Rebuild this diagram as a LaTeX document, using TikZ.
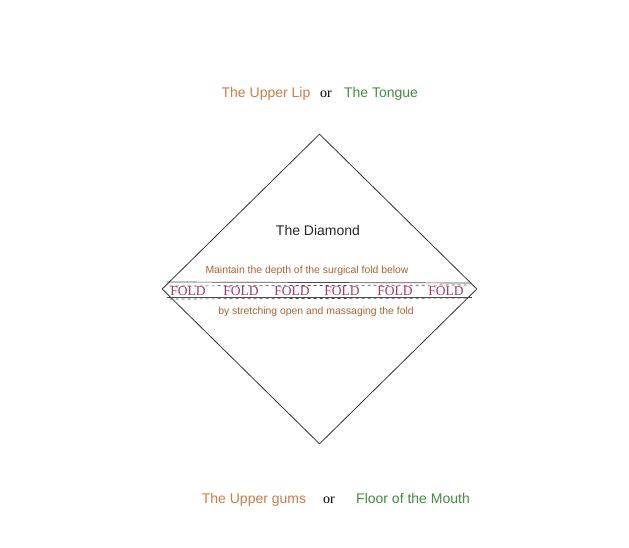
\documentclass[tikz,border=0pt]{standalone}
\usepackage{fontspec}
\setmainfont{Liberation Serif}
\setsansfont{Liberation Sans}
\usepackage{xcolor}
\usetikzlibrary{shapes.geometric,calc}
\definecolor{LipOrange}{HTML}{D07B45}
\definecolor{TongueGreen}{HTML}{3F8F3F}
\definecolor{NoteBrown}{HTML}{B0612E}
\definecolor{FoldRed}{HTML}{A3386B}
\definecolor{EdgeGrey}{HTML}{333333}
\definecolor{FoldLine}{HTML}{4A4A4A}
\tikzset{
  place/.style={
    anchor=base,
    inner sep=0pt,
    font=\sffamily\fontsize{14}{16}\selectfont,
  },
  orword/.style={
    anchor=base,
    inner sep=0pt,
    font=\rmfamily\fontsize{14}{16}\selectfont,
    text=black,
  },
  note/.style={
    anchor=base,
    inner sep=0pt,
    font=\sffamily\fontsize{10.4}{12}\selectfont,
    text=NoteBrown,
  },
  foldword/.style={
    anchor=base,
    inner sep=0pt,
    font=\rmfamily\fontsize{13.5}{15}\selectfont,
    text=FoldRed,
  },
  foldline/.style={
    draw=FoldLine,
    line width=0.7pt,
  }
}

\begin{document}
\begin{tikzpicture}[x=1pt,y=-1pt]
  \useasboundingbox (0,0) rectangle (629,548);

  % the diamond
  \node[
    diamond,
    draw=EdgeGrey,
    line width=0.8pt,
    inner sep=0pt,
    minimum width=315pt,
    minimum height=310pt
  ] (dia) at (319.5,289) {};

  % top labels
  \node[place, text=LipOrange] (lip) at (266,97.5) {The Upper Lip};
  \node[orword] (or1) at (326,97.5) {or};
  \node[place, text=TongueGreen] (tongue) at (381,97.5) {The Tongue};

  % inside the diamond
  \node[place, text=black!85] (title) at (318,236) {The Diamond};
  \node[note] (above) at (307,273.5) {Maintain the depth of the surgical fold below};
  \node[note] (below) at (316,314) {by stretching open and massaging the fold};

  % the fold band
  \draw[foldline] ($(dia.west)+(5,-7)$) -- ($(dia.east)+(-6,-6)$);
  \draw[foldline, dashed] ($(dia.west)+(8,-3)$) -- ($(dia.east)+(-8,-4)$);
  \draw[foldline] ($(dia.west)+(5,8)$) -- ($(dia.east)+(-5,8)$);
  \draw[foldline, dashed] ($(dia.west)+(8,10)$) -- ($(dia.east)+(-8,9)$);
  \foreach \fx [count=\i] in {188,241,292,342,395,446} {
    \node[foldword] (fold\i) at (\fx,295) {FOLD};
  }

  % bottom labels
  \node[place, text=LipOrange] (gums) at (254,503) {The Upper gums};
  \node[orword] (or2) at (329,503) {or};
  \node[place, text=TongueGreen] (floor) at (413,503) {Floor of the Mouth};
\end{tikzpicture}
\end{document}
